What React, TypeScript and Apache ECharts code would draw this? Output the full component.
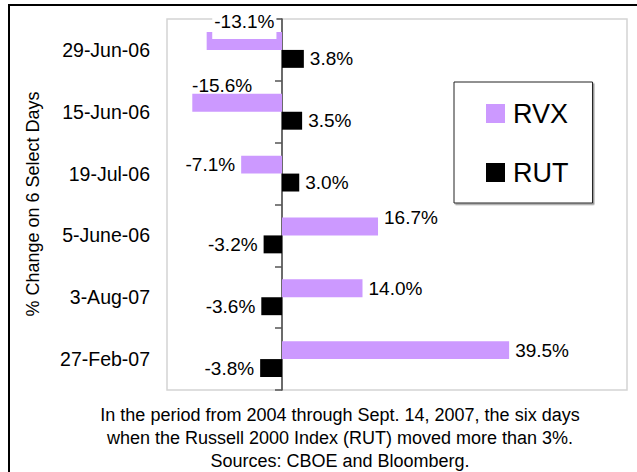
import React, { useEffect, useRef } from "react";
import * as echarts from "echarts";

const categories = ["29-Jun-06", "15-Jun-06", "19-Jul-06", "5-June-06", "3-Aug-07", "27-Feb-07"];
const rvxValues = [-13.1, -15.6, -7.1, 16.7, 14.0, 39.5];
const rutValues = [3.8, 3.5, 3.0, -3.2, -3.6, -3.8];
const seriesNames = ["RVX", "RUT"];
const yAxisTitle = "% Change on 6 Select Days";
const captionLines = [
  "In the period from 2004 through Sept. 14, 2007, the six days",
  "when the Russell 2000 Index (RUT) moved more than 3%.",
  "Sources: CBOE and Bloomberg.",
];

const FONT = "'Liberation Sans', Arial, sans-serif";
const fmt = (v: number) => v.toFixed(1) + "%";

// label placement tweaks for specific RVX bars (index -> label options)
const rvxLabelTweaks: Record<number, any> = {
  0: {
    position: "top",
    distance: -7,
    backgroundColor: "#ffffff",
    padding: [3, 2, 8, 2],
  },
  1: { position: "top", distance: -1, offset: [-15, 0] },
  3: { offset: [0, -9] },
};

function buildData(values: number[], tweaks: Record<number, any>) {
  return values.map((v, i) => ({
    value: v,
    label: {
      position: v < 0 ? "left" : "right",
      distance: 6,
      ...(tweaks[i] || {}),
    },
  }));
}

export default function App() {
  const ref = useRef<HTMLDivElement>(null);
  useEffect(() => {
    if (!ref.current) return;
    const chart = echarts.init(ref.current, null, { renderer: "svg" });
    const labelStyle = {
      show: true,
      formatter: (p: any) => fmt(p.value),
      fontFamily: FONT,
      fontSize: 19,
      color: "#000",
    };
    chart.setOption({
      animation: false,
      backgroundColor: "#fff",
      textStyle: { fontFamily: FONT },
      grid: {
        left: 167,
        top: 19,
        right: 10,
        bottom: 82,
        show: true,
        borderColor: "#d4d4d4",
        borderWidth: 1.5,
        backgroundColor: "#fff",
      },
      legend: {
        orient: "vertical",
        left: 454,
        top: 82,
        data: seriesNames,
        icon: "rect",
        itemWidth: 19,
        itemHeight: 19,
        itemGap: 28,
        padding: [16, 24, 15, 32],
        borderColor: "#222",
        borderWidth: 1,
        backgroundColor: "#fff",
        shadowColor: "#999",
        shadowOffsetX: 1.5,
        shadowOffsetY: 1.5,
        shadowBlur: 0,
        textStyle: {
          fontFamily: FONT,
          fontSize: 27,
          lineHeight: 31,
          color: "#000",
          padding: [0, 0, 0, 3],
        },
      },
      xAxis: {
        type: "value",
        min: -20,
        max: 60,
        axisLabel: { show: false },
        axisLine: { show: false },
        axisTick: { show: false },
        splitLine: { show: false },
      },
      yAxis: [
        {
          type: "category",
          inverse: true,
          data: categories,
          position: "left",
          axisLine: { show: true, onZero: true, lineStyle: { color: "#3a3a3a", width: 1.5 } },
          axisTick: { show: true, length: 7, lineStyle: { color: "#555", width: 1.5 } },
          axisLabel: { show: false },
          splitLine: { show: false },
        },
        {
          type: "category",
          inverse: true,
          data: categories,
          position: "left",
          axisLine: { show: false, onZero: false },
          axisTick: { show: false },
          axisLabel: {
            show: true,
            margin: 17,
            fontFamily: FONT,
            fontSize: 19.5,
            color: "#000",
          },
          splitLine: { show: false },
        },
      ],
      series: [
        {
          name: seriesNames[0],
          type: "bar",
          yAxisIndex: 0,
          barGap: "0%",
          barCategoryGap: "42%",
          itemStyle: { color: "#CC99FF" },
          label: labelStyle,
          data: buildData(rvxValues, rvxLabelTweaks),
        },
        {
          name: seriesNames[1],
          type: "bar",
          yAxisIndex: 0,
          barGap: "0%",
          barCategoryGap: "42%",
          itemStyle: { color: "#000000" },
          label: labelStyle,
          data: buildData(rutValues, {}),
        },
      ],
      graphic: [
        {
          type: "rect",
          silent: true,
          z: 100,
          shape: { x: 9, y: 5, width: 700, height: 600 },
          style: { fill: "none", stroke: "#000", lineWidth: 2 },
        },
        {
          type: "text",
          silent: true,
          x: 33,
          y: 204,
          rotation: Math.PI / 2,
          style: {
            text: yAxisTitle,
            fontFamily: FONT,
            fontSize: 18,
            fill: "#000",
            textAlign: "center",
            textVerticalAlign: "middle",
          },
        },
        {
          type: "text",
          silent: true,
          x: 340,
          y: 437.5,
          style: {
            text: captionLines.join("\n"),
            fontFamily: FONT,
            fontSize: 18,
            lineHeight: 23,
            fill: "#000",
            textAlign: "center",
            textVerticalAlign: "middle",
          },
        },
      ],
    });
    return () => chart.dispose();
  }, []);
  return (
    <div
      ref={ref}
      style={{ position: "fixed", left: 0, top: 0, width: 637, height: 472 }}
    />
  );
}
